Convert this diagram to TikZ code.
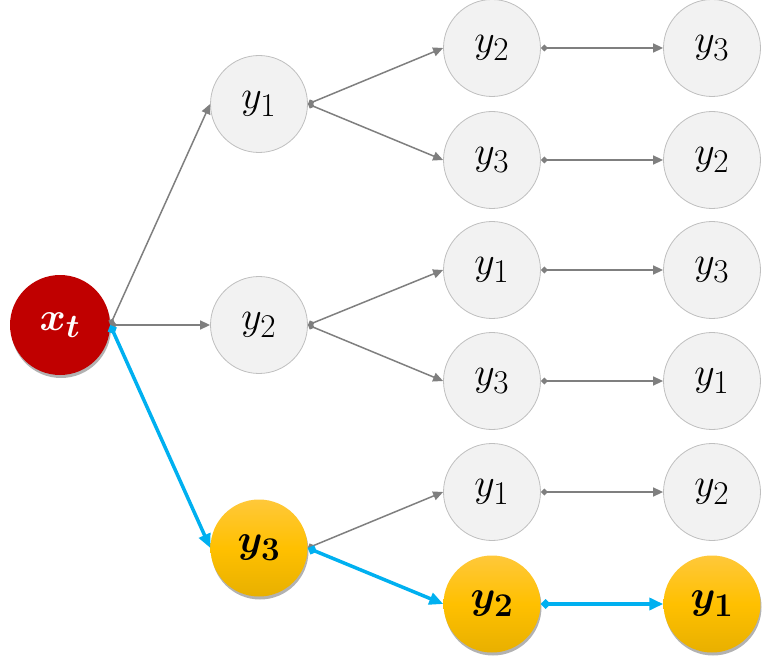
\documentclass[tikz,border=0pt]{standalone}
\usepackage{bm}
\usetikzlibrary{arrows.meta,shadows}
\definecolor{nodegray}{HTML}{F2F2F2}
\definecolor{bordergray}{HTML}{BFBFBF}
\definecolor{edgegray}{HTML}{7F7F7F}
\definecolor{rootred}{HTML}{C00000}
\definecolor{pathblue}{HTML}{00B0F0}
\definecolor{goldtop}{HTML}{FFC83A}
\definecolor{goldmid}{HTML}{FFC000}
\definecolor{goldbot}{HTML}{E8B000}
\newcommand{\tokmath}[1]{\scalebox{1.6}{$#1$}}
\tikzset{
  tok/.style={circle, minimum size=97pt, inner sep=0pt, font=\Huge},
  graytok/.style={tok, fill=nodegray, draw=bordergray, line width=0.8pt},
  goldtok/.style={tok, top color=goldtop, bottom color=goldbot, middle color=goldmid, drop shadow={shadow xshift=1pt, shadow yshift=-3pt, opacity=0.3, fill=black}},
  roottok/.style={tok, minimum size=100pt, fill=rootred, text=white, drop shadow={shadow xshift=1pt, shadow yshift=-3pt, opacity=0.3, fill=black}},
  grayedge/.style={draw=edgegray, line width=1.5pt, {Diamond[length=7pt,width=7pt]}-{Triangle[length=10pt,width=9pt]}},
  blueedge/.style={draw=pathblue, line width=3.5pt, {Diamond[length=10pt,width=10pt]}-{Triangle[length=14pt,width=12pt]}}
}
\begin{document}
\begin{tikzpicture}[x=1pt,y=-1pt]
\useasboundingbox (0,0) rectangle (772,666);
\node[roottok] (x) at (60,325) {\tokmath{\bm{x_t}}};
\node[graytok] (a1) at (259,104) {\tokmath{y_1}};
\node[graytok] (a2) at (259,325) {\tokmath{y_2}};
\node[goldtok] (a3) at (259,548) {\tokmath{\bm{y_3}}};
\node[graytok] (b1) at (492,48) {\tokmath{y_2}};
\node[graytok] (b2) at (492,160) {\tokmath{y_3}};
\node[graytok] (b3) at (492,270) {\tokmath{y_1}};
\node[graytok] (b4) at (492,381) {\tokmath{y_3}};
\node[graytok] (b5) at (492,492) {\tokmath{y_1}};
\node[goldtok] (b6) at (492,604) {\tokmath{\bm{y_2}}};
\node[graytok] (c1) at (712,48) {\tokmath{y_3}};
\node[graytok] (c2) at (712,160) {\tokmath{y_2}};
\node[graytok] (c3) at (712,270) {\tokmath{y_3}};
\node[graytok] (c4) at (712,381) {\tokmath{y_1}};
\node[graytok] (c5) at (712,492) {\tokmath{y_2}};
\node[goldtok] (c6) at (712,604) {\tokmath{\bm{y_1}}};
\draw[grayedge] (x.east) -- (a1.west);
\draw[grayedge] (x.east) -- (a2.west);
\draw[grayedge] (a1.east) -- (b1.west);
\draw[grayedge] (a1.east) -- (b2.west);
\draw[grayedge] (a2.east) -- (b3.west);
\draw[grayedge] (a2.east) -- (b4.west);
\draw[grayedge] (a3.east) -- (b5.west);
\draw[grayedge] (b1.east) -- (c1.west);
\draw[grayedge] (b2.east) -- (c2.west);
\draw[grayedge] (b3.east) -- (c3.west);
\draw[grayedge] (b4.east) -- (c4.west);
\draw[grayedge] (b5.east) -- (c5.west);
\draw[blueedge] (x.east) -- (a3.west);
\draw[blueedge] (a3.east) -- (b6.west);
\draw[blueedge] (b6.east) -- (c6.west);
\end{tikzpicture}
\end{document}
